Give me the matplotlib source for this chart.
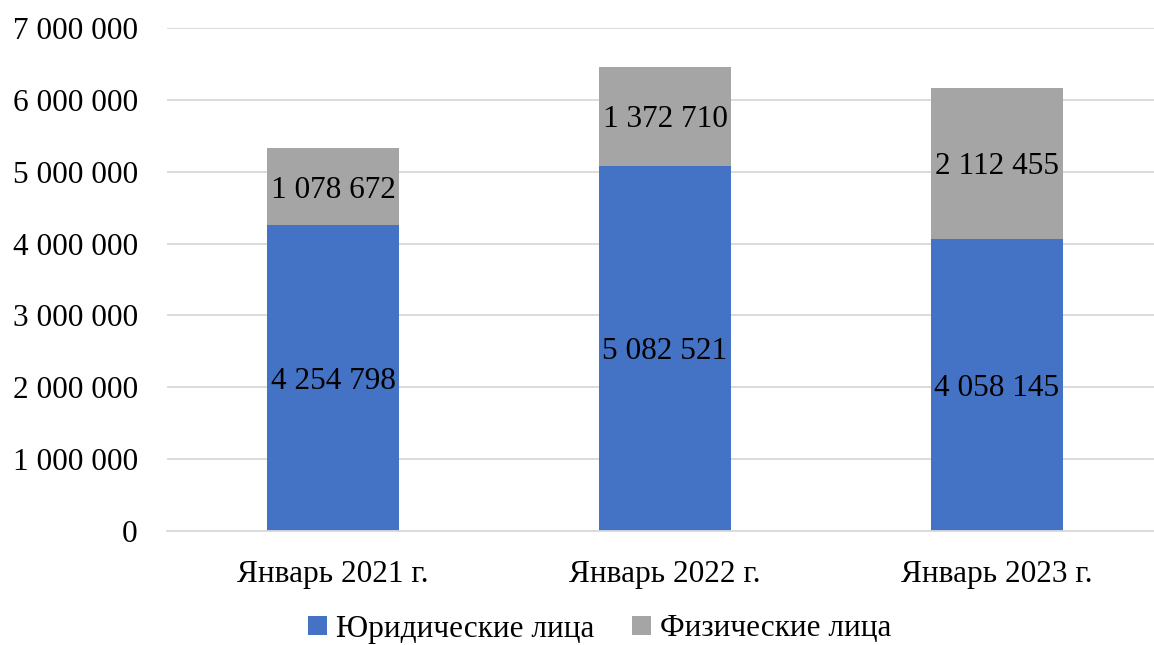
import matplotlib.pyplot as plt
from matplotlib.ticker import FuncFormatter

categories = ["Январь 2021 г.", "Январь 2022 г.", "Январь 2023 г."]
legal = [4254798, 5082521, 4058145]
individual = [1078672, 1372710, 2112455]
series_names = ["Юридические лица", "Физические лица"]

plt.rcParams['font.family'] = ['Liberation Serif', 'DejaVu Serif']

W, H = 1154, 645
fig = plt.figure(figsize=(W / 100, H / 100), dpi=100)
ax = fig.add_axes([167 / W, 1 - 531 / H, 996 / W, 503 / H])


def spaced(v):
    return f"{int(v):,}".replace(",", " ")


x = range(len(categories))
b1 = ax.bar(x, legal, width=0.4, color="#4472C4", label=series_names[0], zorder=2)
b2 = ax.bar(x, individual, width=0.4, bottom=legal, color="#A5A5A5",
            label=series_names[1], zorder=2)

for i in x:
    ax.text(i, legal[i] / 2, spaced(legal[i]), ha="center", va="center_baseline",
            fontsize=22.5)
    ax.text(i, legal[i] + individual[i] / 2, spaced(individual[i]),
            ha="center", va="center_baseline", fontsize=22.5)

ax.set_xlim(-0.5, 2.5)
ax.set_ylim(0, 7000000)
ax.set_yticks(range(0, 7000001, 1000000))
ax.yaxis.set_major_formatter(FuncFormatter(lambda v, p: spaced(v)))
ax.set_xticks(list(x))
ax.set_xticklabels(categories)
ax.tick_params(axis="y", length=0, pad=21, labelsize=22.5)
ax.tick_params(axis="x", length=0, pad=21, labelsize=22.5)
ax.grid(axis="y", color="#D9D9D9", linewidth=1.3, zorder=0)
for s in ["top", "right", "left"]:
    ax.spines[s].set_visible(False)
ax.spines["bottom"].set_color("#D9D9D9")
ax.spines["bottom"].set_linewidth(1.3)

fig.legend(handles=[b1, b2], loc="center", bbox_to_anchor=(600 / W, 1 - 629 / H),
           ncol=2, frameon=False, fontsize=22.5, handlelength=0.6, handleheight=0.6,
           handletextpad=0.3, columnspacing=1.2)

fig.savefig("out.png", dpi=100)
